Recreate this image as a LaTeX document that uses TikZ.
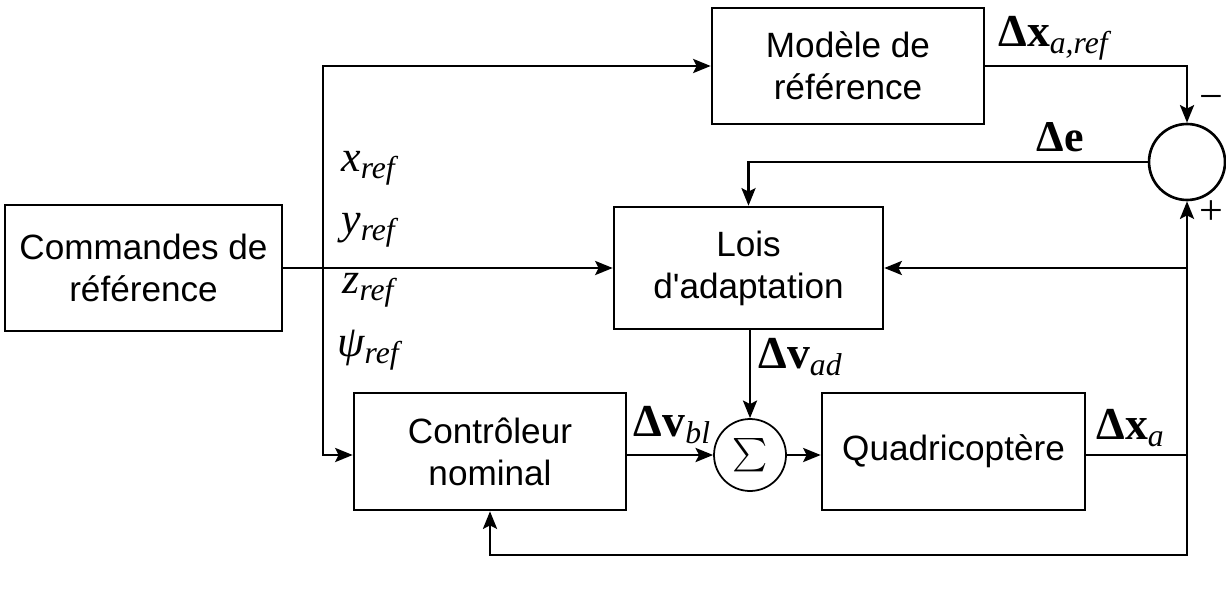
\documentclass[tikz,border=0pt]{standalone}
\usepackage{fontspec}
\usepackage{graphicx}
\setmainfont{Liberation Sans}
\newfontfamily\tms{Liberation Serif}
\usetikzlibrary{arrows.meta}
\newcommand{\sbs}[1]{\raisebox{-0.35ex}{\fontsize{18}{18}\selectfont\itshape #1}}
\newcommand{\sq}{\XeTeXglyph\the\XeTeXglyphindex "quotesingle" }
\begin{document}
\begin{tikzpicture}[x=0.02cm,y=-0.02cm,
  blk/.style={draw,line width=1.5pt,align=center,font=\fontsize{20}{24}\selectfont,inner sep=0pt},
  lbl/.style={font=\tms\fontsize{26}{26}\selectfont,inner sep=0pt},
  sig/.style={font=\tms\itshape\fontsize{25}{25}\selectfont,inner sep=0pt},
  conn/.style={line width=1.5pt},
  arr/.style={conn,-{Stealth[length=10pt,width=8pt,inset=2pt]}}]
\useasboundingbox (0,0) rectangle (1226,588);
\node[blk,minimum width=5.54cm,minimum height=2.52cm] (cmd) at (143.5,268) {Commandes de\\référence};
\node[blk,minimum width=5.44cm,minimum height=2.32cm] (mod) at (848,66) {Modèle de\\référence};
\node[blk,minimum width=5.38cm,minimum height=2.44cm] (lois) at (748.5,268) {Lois\\d\sq adaptation};
\node[blk,minimum width=5.44cm,minimum height=2.34cm] (ctrl) at (490,451.5) {Contrôleur\\nominal};
\node[blk,minimum width=5.26cm,minimum height=2.34cm] (quad) at (953.5,451.5) {Quadricoptère};
\node[draw,circle,line width=1pt,minimum size=1.44cm,inner sep=0pt] (sum) at (750,455) {\scalebox{1.9}{$\sum$}};
\node[draw,circle,line width=1.5pt,minimum size=1.52cm,inner sep=0pt] (bc) at (1187,162) {};
\coordinate (split) at (323,268);
\coordinate (r) at (1187,455);
\coordinate (bot) at (1187,555);
% connectors
\draw[arr] (cmd.east) -- (lois.west);
\draw[arr] (split) |- (mod.west);
\draw[arr] (split) |- (ctrl.west |- sum.west);
\draw[arr] (mod.east) -| (bc.north);
\draw[arr] (bc.west) -| (lois.north);
\draw[arr] (lois.south -| sum.north) -- (sum.north);
\draw[arr] (ctrl.east |- sum.west) -- (sum.west);
\draw[arr] (sum.east) -- (quad.west |- sum.east);
\draw[conn] (quad.east |- r) -- (r);
\draw[arr] (r) -- (bc.south);
\draw[arr] (bc.south |- lois.east) -- (lois.east);
\draw[arr] (r) -- (bot) -| (ctrl.south);
% labels
\node[lbl] (lxr) at (1053,38) {\textbf{Δx}\sbs{a,ref}};
\node[lbl,font=\tms\fontsize{24}{24}\selectfont] (lm) at (1211,103) {−};
\node[lbl,font=\tms\fontsize{24}{24}\selectfont] (lp) at (1211,213) {+};
\node[lbl,font=\tms\fontsize{25}{25}\selectfont] (le) at (1060,137) {\textbf{Δe}};
\node[sig] (lx) at (368,168) {x\sbs{ref}};
\node[sig] (ly) at (368,230) {y\sbs{ref}};
\node[sig] (lz) at (368,290) {z\sbs{ref}};
\node[sig] (lpsi) at (368,350) {ψ\sbs{ref}};
\node[lbl] (lad) at (800,357) {\textbf{Δv}\sbs{ad}};
\node[lbl] (lbl) at (672,425) {\textbf{Δv}\sbs{bl}};
\node[lbl] (lxa) at (1130,428) {\textbf{Δx}\sbs{a}};
\end{tikzpicture}
\end{document}
